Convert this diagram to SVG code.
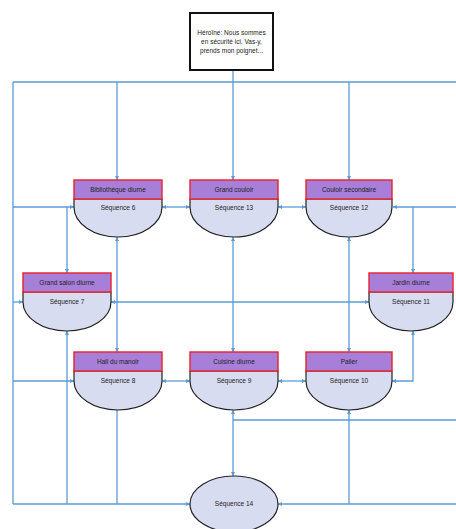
<svg xmlns="http://www.w3.org/2000/svg" width="456" height="529" viewBox="0 0 456 529">
<style>
.c{fill:none;stroke:#5b9bd5;stroke-width:1.3}
.h{fill:#a77fd8;stroke:#e8202a;stroke-width:1.4}
.e{fill:#d8dcf1;stroke:#222;stroke-width:1.2}
.t{font-family:"Liberation Sans",Arial,sans-serif;font-size:6.5px;fill:#222;text-anchor:middle}
.b{fill:#fff;stroke:#111;stroke-width:2}
</style>
<defs>
<marker id="a" viewBox="0 0 10 10" refX="10" refY="5" markerWidth="4" markerHeight="4" orient="auto-start-reverse" markerUnits="userSpaceOnUse">
<path d="M0,0 L10,5 L0,10 z" fill="#5b9bd5"/>
</marker>
</defs>
<rect width="456" height="529" fill="#fff"/>
<g id="connectors">
<path class="c" d="M233,70 V82 M13,82 H456 M13,82 V504"/>
<path class="c" d="M117,82 V180" marker-end="url(#a)"/>
<path class="c" d="M233,82 V180" marker-end="url(#a)"/>
<path class="c" d="M349,82 V180" marker-end="url(#a)"/>
<path class="c" d="M13,207 H74" marker-end="url(#a)"/>
<path class="c" d="M162,207 H190" marker-start="url(#a)" marker-end="url(#a)"/>
<path class="c" d="M278,207 H306" marker-start="url(#a)" marker-end="url(#a)"/>
<path class="c" d="M456,207 H393" marker-end="url(#a)"/>
<path class="c" d="M413,207 V273" marker-end="url(#a)"/>
<path class="c" d="M67,207 V273" marker-end="url(#a)"/>
<path class="c" d="M13,302 H23" marker-end="url(#a)"/>
<path class="c" d="M111,302 H369" marker-start="url(#a)" marker-end="url(#a)"/>
<path class="c" d="M117,237 V352" marker-start="url(#a)" marker-end="url(#a)"/>
<path class="c" d="M233,237 V352" marker-start="url(#a)" marker-end="url(#a)"/>
<path class="c" d="M349,237 V352" marker-start="url(#a)" marker-end="url(#a)"/>
<path class="c" d="M413,331 V381 H392" marker-start="url(#a)" marker-end="url(#a)"/>
<path class="c" d="M13,381 H74" marker-end="url(#a)"/>
<path class="c" d="M162,381 H190" marker-start="url(#a)" marker-end="url(#a)"/>
<path class="c" d="M278,381 H306" marker-start="url(#a)" marker-end="url(#a)"/>
<path class="c" d="M67,331 V504" marker-start="url(#a)"/>
<path class="c" d="M117,410 V504"/>
<path class="c" d="M13,504 H190" marker-end="url(#a)"/>
<path class="c" d="M233,410 V476" marker-start="url(#a)" marker-end="url(#a)"/>
<path class="c" d="M233,420 H456"/>
<path class="c" d="M349,410 V504" marker-start="url(#a)"/>
<path class="c" d="M456,504 H278" marker-end="url(#a)"/>
</g>
<g id="heroine">
<rect class="b" x="190" y="13" width="83" height="57"/>
<text class="t" x="231.5" y="35">Héroïne: Nous sommes</text>
<text class="t" x="231.5" y="44">en sécurité ici. Vas-y,</text>
<text class="t" x="231.5" y="53">prends mon poignet...</text>
</g>
<g id="n6">
<path class="e" d="M74,199 V207 A44,30 0 0 0 162,207 V199 Z"/>
<rect class="h" x="74" y="180" width="88" height="19"/>
<text class="t" x="118" y="192">Bibliothèque diurne</text>
<text class="t" x="118" y="210">Séquence 6</text>
</g>
<g id="n13">
<path class="e" d="M190,199 V207 A44,30 0 0 0 278,207 V199 Z"/>
<rect class="h" x="190" y="180" width="88" height="19"/>
<text class="t" x="234" y="192">Grand couloir</text>
<text class="t" x="234" y="210">Séquence 13</text>
</g>
<g id="n12">
<path class="e" d="M306,199 V207 A43,30 0 0 0 392,207 V199 Z"/>
<rect class="h" x="306" y="180" width="86" height="19"/>
<text class="t" x="349" y="192">Couloir secondaire</text>
<text class="t" x="349" y="210">Séquence 12</text>
</g>
<g id="n7">
<path class="e" d="M23,292 V302 A44,29 0 0 0 111,302 V292 Z"/>
<rect class="h" x="23" y="273" width="88" height="19"/>
<text class="t" x="67" y="285">Grand salon diurne</text>
<text class="t" x="67" y="304">Séquence 7</text>
</g>
<g id="n11">
<path class="e" d="M369,292 V302 A42,29 0 0 0 453,302 V292 Z"/>
<rect class="h" x="369" y="273" width="84" height="19"/>
<text class="t" x="411" y="285">Jardin diurne</text>
<text class="t" x="411" y="304">Séquence 11</text>
</g>
<g id="n8">
<path class="e" d="M74,371 V381 A44,29 0 0 0 162,381 V371 Z"/>
<rect class="h" x="74" y="352" width="88" height="19"/>
<text class="t" x="118" y="364">Hall du manoir</text>
<text class="t" x="118" y="383">Séquence 8</text>
</g>
<g id="n9">
<path class="e" d="M190,371 V381 A44,29 0 0 0 278,381 V371 Z"/>
<rect class="h" x="190" y="352" width="88" height="19"/>
<text class="t" x="234" y="364">Cuisine diurne</text>
<text class="t" x="234" y="383">Séquence 9</text>
</g>
<g id="n10">
<path class="e" d="M306,371 V381 A43,29 0 0 0 392,381 V371 Z"/>
<rect class="h" x="306" y="352" width="86" height="19"/>
<text class="t" x="349" y="364">Palier</text>
<text class="t" x="349" y="383">Séquence 10</text>
</g>
<g id="n14">
<ellipse class="e" cx="234" cy="504" rx="44" ry="28"/>
<text class="t" x="234" y="506">Séquence 14</text>
</g>
</svg>
